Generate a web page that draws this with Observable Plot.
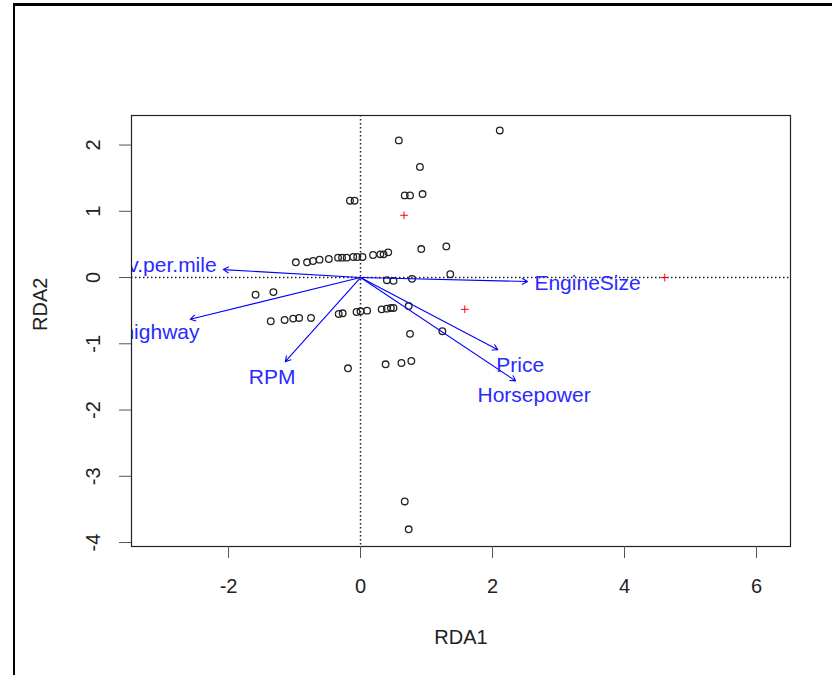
<!DOCTYPE html>
<html><head><meta charset="utf-8">
<script src="https://cdn.jsdelivr.net/npm/d3@7"></script>
<script src="https://cdn.jsdelivr.net/npm/@observablehq/plot@0.6"></script>
<style>
html,body{margin:0;padding:0;background:#fff;}
#wrap{position:relative;width:832px;height:675px;overflow:hidden;}
#border{position:absolute;left:13px;top:3px;width:830px;height:690px;border-top:3px solid #000;border-left:2px solid #000;pointer-events:none;box-sizing:border-box;}
</style></head><body>
<div id="wrap"><div id="chart"></div><div id="border"></div></div>
<script>
// Site scores (RDA1, RDA2)
const siteX = [-0.98,-0.81,-0.72,-0.62,-0.48,-0.34,-0.28,-0.21,-0.11,-0.05,0.03,0.19,0.30,0.35,0.42,
  0.58,2.11,0.90,-0.16,-0.09,0.67,0.75,0.94,0.92,1.30,1.36,0.40,0.50,0.78,
  -1.59,-1.32,-1.36,-1.15,-1.02,-0.93,-0.75,-0.33,-0.27,-0.06,0.00,0.10,0.32,0.40,0.46,0.50,0.73,
  0.75,1.24,-0.19,0.38,0.62,0.77,0.67,0.73];
const siteY = [0.23,0.23,0.25,0.27,0.28,0.30,0.30,0.30,0.31,0.31,0.31,0.34,0.35,0.35,0.38,
  2.07,2.22,1.67,1.16,1.16,1.24,1.24,1.26,0.43,0.47,0.05,-0.04,-0.05,-0.02,
  -0.26,-0.22,-0.66,-0.64,-0.62,-0.61,-0.61,-0.55,-0.54,-0.52,-0.51,-0.50,-0.48,-0.47,-0.46,-0.46,-0.43,
  -0.85,-0.81,-1.37,-1.31,-1.29,-1.26,-3.38,-3.80];
// Factor centroids
const centroidX = [0.66, 1.58, 4.61];
const centroidY = [0.94, -0.48, 0.00];
// Biplot arrows
const arrowNames = ["EngineSize","Price","Horsepower","RPM","MPG.highway","Rev.per.mile"];
const arrowX = [2.53, 2.08, 2.35, -1.14, -2.58, -2.08];
const arrowY = [-0.06, -1.09, -1.56, -1.27, -0.63, 0.12];
// label positions (centre for right-hand labels, right end for left-hand labels)
const labelX = [3.44, 2.42, 2.63, -1.34, -2.44, -2.18];
const labelY = [-0.09, -1.33, -1.78, -1.51, -0.82, 0.18];
// ticks
const xTicks = [-2, 0, 2, 4, 6];
const yTicks = [2, 1, 0, -1, -2, -3, -4];

const sites = siteX.map((x, i) => ({x, y: siteY[i]}));
const centroids = centroidX.map((x, i) => ({x, y: centroidY[i]}));
const arrows = arrowNames.map((name, i) => ({name, x: arrowX[i], y: arrowY[i], lx: labelX[i], ly: labelY[i]}));
const rightLabels = arrows.filter(d => d.lx > -2);
const leftLabels = arrows.filter(d => d.lx <= -2);

const font = "'Liberation Sans', Arial, Helvetica, sans-serif";
const plot = Plot.plot({
  width: 832, height: 675,
  marginLeft: 131, marginRight: 42, marginTop: 115, marginBottom: 129,
  x: {domain: [-3.47, 6.515], axis: null},
  y: {domain: [-4.06, 2.446], axis: null},
  style: {fontFamily: font, background: "white", overflow: "visible"},
  marks: [
    Plot.ruleX([0], {stroke: "#222", strokeWidth: 1.5, strokeDasharray: "1.5,2.5"}),
    Plot.ruleY([0], {stroke: "#222", strokeWidth: 1.5, strokeDasharray: "1.5,2.5"}),
    Plot.dot(sites, {x: "x", y: "y", r: 3.3, stroke: "#222", strokeWidth: 1.3}),
    Plot.dot(centroids, {x: "x", y: "y", symbol: "plus", r: 2.6, stroke: "red", strokeWidth: 1}),
    Plot.arrow(arrows, {x1: () => 0, y1: () => 0, x2: "x", y2: "y", stroke: "blue", strokeWidth: 1.1, headLength: 8}),
    Plot.text(rightLabels, {x: "lx", y: "ly", text: "name", fill: "#2a2aff", fontSize: 21, textAnchor: "middle"}),
    Plot.text(leftLabels, {x: "lx", y: "ly", text: "name", fill: "#2a2aff", fontSize: 21, textAnchor: "end", clip: true}),
    Plot.frame({stroke: "#222", strokeWidth: 1.2}),
    Plot.axisX(xTicks, {tickSize: 12, tickPadding: 20, fontSize: 20, stroke: "#555", color: "#222", tickFormat: d => String(d), label: null}),
    Plot.axisY(yTicks, {tickSize: 12, stroke: "#555", tickFormat: () => "", label: null}),
    Plot.text(yTicks, {y: d => d, text: d => String(d), frameAnchor: "left", dx: -38, rotate: -90, fontSize: 20, fill: "#222", textAnchor: "middle", lineAnchor: "middle"}),
    Plot.text(["RDA1"], {frameAnchor: "bottom", dy: 91, text: d => d, fontSize: 20, fill: "#222", lineAnchor: "middle"}),
    Plot.text(["RDA2"], {frameAnchor: "left", dx: -91, rotate: -90, text: d => d, fontSize: 20, fill: "#222", lineAnchor: "middle"})
  ]
});
document.getElementById("chart").appendChild(plot);
</script>
</body></html>
